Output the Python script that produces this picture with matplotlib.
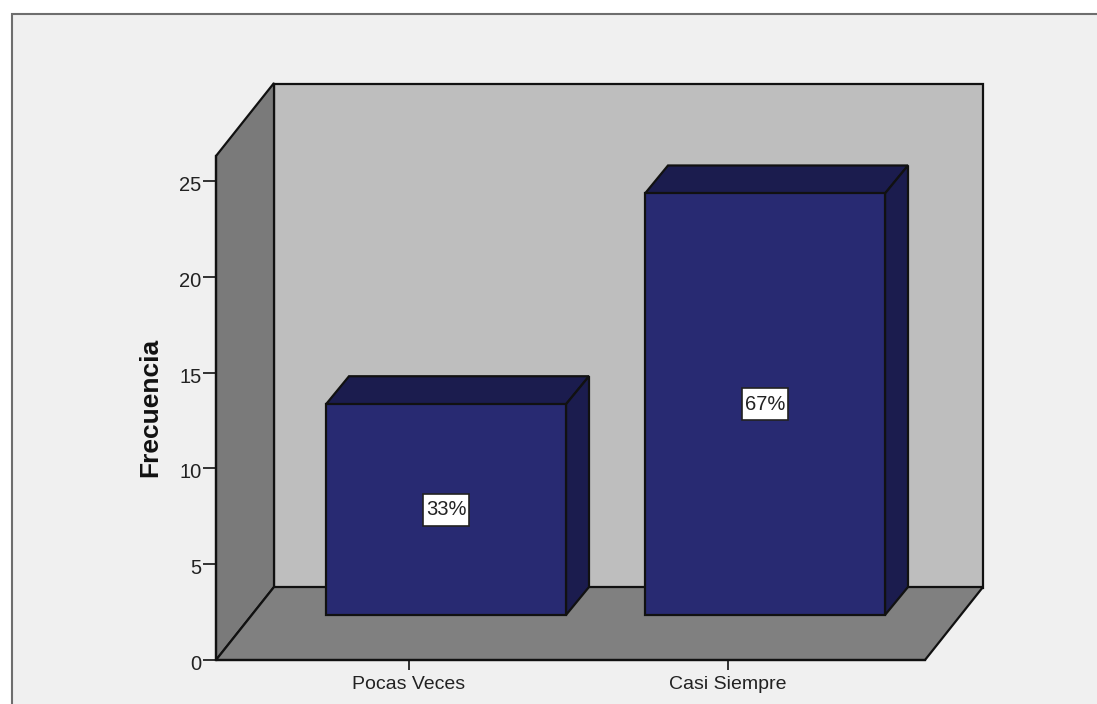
import matplotlib
matplotlib.use('Agg')
import matplotlib.pyplot as plt
from matplotlib.patches import Polygon, Rectangle
from matplotlib.transforms import Affine2D

categories = ['Pocas Veces', 'Casi Siempre']
frecuencia = [11, 22]
porcentaje = ['33%', '67%']
yticks = [0, 5, 10, 15, 20, 25]

plt.rcParams['font.family'] = ['Liberation Sans', 'DejaVu Sans']
W, H = 1097, 704
fig = plt.figure(figsize=(W / 100, H / 100), dpi=100, facecolor='white')

# panel with border, runs off the right and bottom of the image
fig.add_artist(Rectangle((11.5 / W, -0.1), 1.2, 1.1 - 14 / H, transform=fig.transFigure,
                         fc='#f0f0f0', ec='#6e6e6e', lw=1.5, zorder=-1))

L, R, T, B = 216, 925, 156, 660
ax = fig.add_axes([L / W, 1 - B / H, (R - L) / W, (B - T) / H])
ax.patch.set_visible(False)
px_x, px_y = 319.0, 19.16
ax.set_xlim((L - 409) / px_x, (R - 409) / px_x)
ax.set_ylim(0, (B - T) / px_y)


def shift(dx, dy):
    return ax.transData + Affine2D().translate(dx, dy)


edge = '#111111'
lw = 1.6
x0, x1 = ax.get_xlim()
y1 = ax.get_ylim()[1]
wall_dx, wall_dy = 58 / px_x, 73 / px_y

ax.add_patch(Rectangle((x0, 0), x1 - x0, y1, transform=shift(58, 72),
                       fc='#bebebe', ec=edge, lw=lw, clip_on=False, zorder=1))
ax.add_patch(Polygon([(x0, 0), (x0 + wall_dx, wall_dy), (x0 + wall_dx, y1 + wall_dy), (x0, y1)],
                     fc='#7a7a7a', ec=edge, lw=lw, clip_on=False, zorder=1.1))
ax.add_patch(Polygon([(x0, 0), (x1, 0), (x1 + wall_dx, wall_dy), (x0 + wall_dx, wall_dy)],
                     fc='#808080', ec=edge, lw=lw, clip_on=False, zorder=1.2))

# bars sit 37,45 px into the floor, with their own depth on top
width = 240 / px_x
bar_dx, bar_dy = 23 / px_x, 28 / px_y
box_w, box_h = 46 / px_x, 32 / px_y
for i, v in enumerate(frecuencia):
    a, b = i - width / 2, i + width / 2
    tr = shift(37, 45)
    ax.add_patch(Polygon([(a, v), (b, v), (b + bar_dx, v + bar_dy), (a + bar_dx, v + bar_dy)],
                         transform=tr, fc='#1b1c4e', ec=edge, lw=lw, clip_on=False, zorder=2))
    ax.add_patch(Polygon([(b, 0), (b + bar_dx, bar_dy), (b + bar_dx, v + bar_dy), (b, v)],
                         transform=tr, fc='#1b1c4e', ec=edge, lw=lw, clip_on=False, zorder=2))
    ax.bar(i, v, width, transform=tr, color='#282a72', edgecolor=edge, lw=lw, clip_on=False, zorder=3)
    ax.add_patch(Rectangle((i - box_w / 2, v / 2 - box_h / 2), box_w, box_h, transform=tr,
                           fc='white', ec='#222222', lw=1.2, zorder=4))
    ax.text(i, v / 2, porcentaje[i], transform=tr, ha='center', va='center', fontsize=14.5,
            color='#222222', zorder=5)

ax.spines['top'].set_visible(False)
ax.spines['right'].set_visible(False)
for s in ['left', 'bottom']:
    ax.spines[s].set_linewidth(lw)
    ax.spines[s].set_color(edge)
    ax.spines[s].set_zorder(5)

ax.set_xticks(range(len(categories)), categories)
ax.set_yticks(yticks)
ax.tick_params(axis='x', length=7.5, width=1.2, color=edge, labelsize=14, labelcolor='#222222', pad=4)
ax.tick_params(axis='y', length=9.5, width=1.2, color=edge, labelsize=14.5, labelcolor='#222222', pad=1)
# tick numbers sit a little below their ticks in the original
for lab in ax.get_yticklabels():
    lab.set_transform(lab.get_transform() + Affine2D().translate(0, -2.5))
ax.set_ylabel('Frecuencia', fontsize=19, fontweight='bold', color='#111111', labelpad=0)
ax.yaxis.set_label_coords((162 - L) / (R - L), (B - 407) / (B - T))

fig.savefig('out.png', dpi=100)
